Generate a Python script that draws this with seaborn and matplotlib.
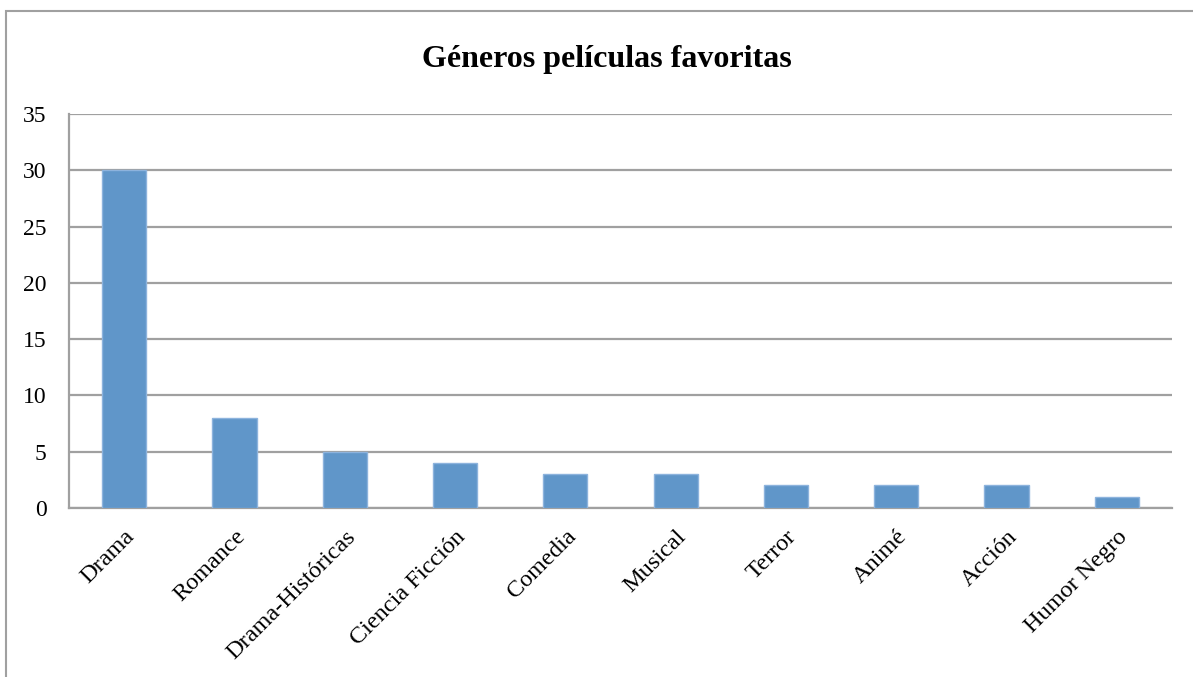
import matplotlib
matplotlib.use("Agg")
import matplotlib.pyplot as plt
import seaborn as sns
import pandas as pd
from matplotlib.patches import Rectangle

categories = ["Drama", "Romance", "Drama-Históricas", "Ciencia Ficción", "Comedia",
              "Musical", "Terror", "Animé", "Acción", "Humor Negro"]
values = [30, 8, 5, 4, 3, 3, 2, 2, 2, 1]
yticks = [0, 5, 10, 15, 20, 25, 30, 35]
title = "Géneros películas favoritas"

sns.set_theme(style="white")
plt.rcParams['font.family'] = ['Liberation Serif', 'DejaVu Serif']
plt.rcParams['text.color'] = 'black'
plt.rcParams['xtick.color'] = 'black'
plt.rcParams['ytick.color'] = 'black'

df = pd.DataFrame({"genero": categories, "valor": values})

fig = plt.figure(figsize=(11.93, 6.77), dpi=100)
ax = fig.add_axes([69/1193, 1 - 508/677, (1172 - 69)/1193, (508 - 114)/677])

sns.barplot(data=df, x="genero", y="valor", ax=ax, color="#6096C9", width=0.4,
            saturation=1, edgecolor="#8DB3DD", linewidth=1, zorder=3)

ax.set_ylim(0, 35)
ax.set_xlim(-0.5, len(categories) - 0.5)
ax.set_yticks(yticks)
ax.set_yticklabels([str(t) for t in yticks], fontsize=17)
ax.yaxis.grid(True, color="#A0A0A0", linewidth=1.6, zorder=0)
ax.set_axisbelow(True)
ax.set_xlabel("")
ax.set_ylabel("")
ax.tick_params(axis="y", length=0, pad=16, labelcolor="black")
ax.tick_params(axis="x", length=0, pad=13, labelcolor="black")
for lbl in ax.get_xticklabels():
    lbl.set_rotation(45)
    lbl.set_ha("right")
    lbl.set_rotation_mode("anchor")
    lbl.set_fontsize(17.5)

for side in ["top", "right"]:
    ax.spines[side].set_visible(False)
for side in ["left", "bottom"]:
    ax.spines[side].set_color("#A0A0A0")
    ax.spines[side].set_linewidth(1.6)

fig.text(607/1193, 1 - 60/677, title, ha="center", va="center",
         fontsize=23, fontweight="bold", color="black")

# outer chart frame (right/bottom edges cropped in original)
fig.patches.append(Rectangle((6/1193, -0.1), 1.2, 1 - 11/677 + 0.1,
                             transform=fig.transFigure, fill=False,
                             edgecolor="#A0A0A0", linewidth=1.5))

fig.savefig("out.png", dpi=100)
